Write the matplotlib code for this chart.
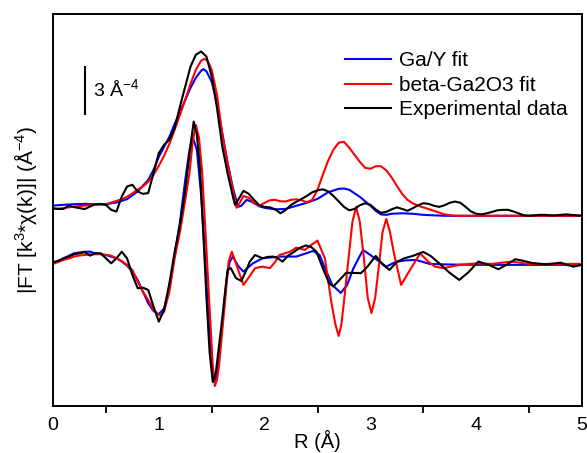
import matplotlib
matplotlib.use("Agg")
import matplotlib.pyplot as plt
import numpy as np

plt.rcParams["font.family"] = ["Liberation Sans", "DejaVu Sans"]
plt.rcParams["mathtext.fontset"] = "custom"
plt.rcParams["mathtext.rm"] = "Liberation Sans"
plt.rcParams["mathtext.it"] = "Liberation Sans:italic"

# ── Données : |FT| (courbes du haut) et partie réelle (courbes du bas), en Å^-4 ──

r_black_mag = [0, 0.05, 0.1, 0.15, 0.2, 0.25, 0.3, 0.35, 0.4, 0.45, 0.5, 0.55, 0.6, 0.65, 0.7,
               0.75, 0.8, 0.85, 0.9, 0.95, 1.0, 1.05, 1.1, 1.15, 1.2, 1.25, 1.3, 1.35, 1.4, 1.45,
               1.5, 1.55, 1.6, 1.65, 1.7, 1.72, 1.75, 1.8, 1.85, 1.9, 1.95, 2.0, 2.05, 2.1, 2.15,
               2.2, 2.25, 2.3, 2.35, 2.4, 2.45, 2.5, 2.55, 2.6, 2.65, 2.7, 2.75, 2.8, 2.85, 2.9,
               2.95, 3.0, 3.05, 3.1, 3.15, 3.2, 3.25, 3.3, 3.35, 3.4, 3.45, 3.5, 3.55, 3.6, 3.65,
               3.7, 3.75, 3.8, 3.85, 3.9, 3.95, 4.0, 4.05, 4.1, 4.15, 4.2, 4.25, 4.3, 4.35, 4.4,
               4.45, 4.5, 4.55, 4.6, 4.65, 4.7, 4.75, 4.8, 4.85, 4.9, 4.95, 5.0]
black_mag = [0.62, 0.56, 0.57, 0.78, 0.68, 0.62, 0.56, 0.72, 0.87, 0.89, 0.83, 0.51, 0.40, 1.36, 2.00,
             2.11, 1.68, 1.53, 1.58, 2.85, 4.13, 4.66, 4.98, 5.72, 7.10, 8.38, 9.65, 10.40, 10.61, 10.29,
             9.02, 7.00, 4.55, 2.85, 1.36, 0.83, 1.15, 1.72, 1.53, 1.15, 0.80, 0.70, 0.67, 0.54, 0.29,
             0.51, 0.83, 1.02, 1.21, 1.40, 1.63, 1.75, 1.82, 1.69, 1.40, 1.05, 0.70, 0.48, 0.57, 0.80,
             0.93, 0.83, 0.54, 0.32, 0.38, 0.54, 0.67, 0.57, 0.45, 0.61, 0.80, 0.93, 0.89, 0.77, 0.70,
             0.80, 0.96, 1.04, 0.96, 0.70, 0.41, 0.26, 0.22, 0.29, 0.38, 0.48, 0.51, 0.51, 0.41, 0.29,
             0.16, 0.13, 0.16, 0.19, 0.19, 0.16, 0.16, 0.19, 0.22, 0.19, 0.16, 0.13]

r_blue_mag = [0, 0.1, 0.2, 0.3, 0.4, 0.5, 0.6, 0.7, 0.8, 0.9, 0.95, 1.0, 1.05, 1.1, 1.15, 1.2,
              1.25, 1.3, 1.35, 1.4, 1.42, 1.45, 1.5, 1.55, 1.6, 1.65, 1.7, 1.75, 1.78, 1.83, 1.88,
              1.95, 2.0, 2.1, 2.2, 2.3, 2.4, 2.5, 2.6, 2.7, 2.75, 2.8, 2.9, 3.0, 3.05, 3.1, 3.15,
              3.2, 3.3, 3.4, 3.5, 3.7, 4.0, 4.5, 5.0]
blue_mag = [0.78, 0.83, 0.87, 0.89, 0.87, 0.87, 0.98, 1.19, 1.68, 2.42, 3.06, 3.89, 4.53, 5.17, 6.00, 6.76,
            7.53, 8.29, 8.93, 9.38, 9.49, 9.35, 8.68, 7.34, 5.42, 3.51, 1.91, 0.70, 0.77, 1.15, 1.02,
            0.73, 0.64, 0.54, 0.57, 0.77, 0.96, 1.21, 1.63, 1.85, 1.87, 1.79, 1.34, 0.77, 0.45, 0.22, 0.19,
            0.26, 0.29, 0.26, 0.19, 0.13, 0.13, 0.13, 0.13]

r_red_mag = [0, 0.1, 0.2, 0.3, 0.4, 0.5, 0.6, 0.65, 0.7, 0.75, 0.8, 0.85, 0.9, 0.95, 1.0, 1.05,
             1.1, 1.15, 1.2, 1.25, 1.3, 1.35, 1.4, 1.43, 1.46, 1.5, 1.55, 1.6, 1.65, 1.7, 1.735,
             1.76, 1.8, 1.85, 1.9, 1.95, 2.0, 2.05, 2.1, 2.15, 2.2, 2.25, 2.3, 2.35, 2.4, 2.45,
             2.5, 2.55, 2.6, 2.65, 2.7, 2.75, 2.8, 2.85, 2.9, 2.95, 3.0, 3.05, 3.1, 3.15, 3.2,
             3.25, 3.3, 3.35, 3.4, 3.45, 3.5, 3.6, 3.7, 3.8, 4.0, 5.0]
red_mag = [0.56, 0.62, 0.72, 0.78, 0.83, 0.86, 1.08, 1.18, 1.34, 1.56, 1.79, 2.00, 2.30, 2.74, 3.32, 3.96,
           4.72, 5.62, 6.57, 7.53, 8.55, 9.44, 10.02, 10.14, 10.02, 9.44, 7.85, 5.30, 3.51, 1.79, 0.64,
           0.89, 1.40, 1.28, 0.96, 0.77, 0.96, 1.12, 1.15, 1.05, 1.05, 1.15, 1.18, 1.12, 0.99, 1.15,
           1.79, 2.74, 3.64, 4.34, 4.79, 4.85, 4.47, 4.02, 3.57, 3.19, 3.13, 3.29, 3.29, 3.03, 2.58,
           2.04, 1.53, 1.15, 0.93, 0.77, 0.67, 0.45, 0.22, 0.13, 0.13, 0.13]

r_black_re = [0, 0.05, 0.1, 0.15, 0.2, 0.25, 0.3, 0.35, 0.4, 0.45, 0.5, 0.55, 0.6, 0.65, 0.7,
              0.75, 0.8, 0.85, 0.9, 0.95, 1.0, 1.05, 1.1, 1.15, 1.2, 1.25, 1.3, 1.33, 1.36, 1.39,
              1.42, 1.45, 1.48, 1.51, 1.54, 1.57, 1.6, 1.62, 1.65, 1.68, 1.73, 1.78, 1.82, 1.86,
              1.91, 1.98, 2.03, 2.08, 2.12, 2.17, 2.22, 2.28, 2.33, 2.39, 2.44, 2.49, 2.55, 2.61,
              2.65, 2.7, 2.77, 2.84, 2.91, 2.97, 3.05, 3.12, 3.18, 3.25, 3.32, 3.4, 3.5, 3.57,
              3.65, 3.75, 3.84, 3.93, 4.02, 4.12, 4.21, 4.3, 4.37, 4.45, 4.53, 4.66, 4.73, 4.8,
              4.86, 4.92, 5.0]
black_re = [0.11, 0.19, 0.36, 0.47, 0.62, 0.68, 0.75, 0.53, 0.68, 0.68, 0.36, 0.04, 0.36, 0.78, 0.36,
            -0.70, -1.55, -1.51, -1.66, -2.72, -3.68, -2.93, -1.23, 0.78, 2.49, 4.72, 7.59, 9.08, 8.23, 6.00,
            2.04, -2.11, -5.61, -7.53, -6.87, -5.17, -3.45, -2.17, -0.38, -0.26, -0.91, -1.08, -0.51, 0.15,
            0.57, 0.36, 0.45, 0.47, 0.38, 0.15, 0.51, 0.78, 1.02, 1.18, 1.08, 0.78, -0.27, -1.23,
            -1.44, -1.08, -0.57, -0.57, -0.59, -0.19, 0.51, -0.06, -0.38, 0.13, 0.36, 0.51, 0.77, 0.51,
            0.04, -0.57, -1.02, -0.51, 0.15, -0.06, -0.34, 0.00, 0.30, 0.19, 0.06, -0.03, 0.03, 0.08,
            -0.06, -0.17, -0.06]

r_blue_re = [0, 0.1, 0.2, 0.3, 0.35, 0.4, 0.5, 0.6, 0.65, 0.7, 0.75, 0.8, 0.85, 0.9, 0.95, 1.0,
             1.05, 1.1, 1.15, 1.2, 1.25, 1.29, 1.32, 1.36, 1.4, 1.44, 1.48, 1.51, 1.53, 1.56, 1.6,
             1.64, 1.67, 1.7, 1.75, 1.8, 1.89, 1.98, 2.14, 2.3, 2.46, 2.52, 2.57, 2.64, 2.72, 2.78,
             2.84, 2.93, 3.0, 3.05, 3.15, 3.24, 3.32, 3.43, 3.56, 3.7, 4.0, 5.0]
blue_re = [0.04, 0.36, 0.68, 0.78, 0.78, 0.68, 0.57, 0.36, 0.15, -0.11, -0.49, -1.02, -1.77, -2.51, -3.00, -3.21,
           -2.83, -1.55, 0.57, 2.68, 5.36, 7.27, 8.10, 7.27, 4.40, 0.13, -4.40, -7.08, -7.59, -6.64, -3.89,
           -1.02, 0.13, 0.47, -0.13, -0.49, 0.04, 0.36, 0.47, 0.47, 0.83, 0.57, -0.27, -1.34, -1.85, -1.34,
           -0.27, 0.89, 0.57, 0.32, -0.17, 0.13, 0.22, 0.26, 0.00, -0.03, -0.06, -0.06]

r_red_re = [0, 0.05, 0.1, 0.15, 0.2, 0.25, 0.3, 0.35, 0.4, 0.45, 0.5, 0.55, 0.6, 0.65, 0.7, 0.75,
            0.8, 0.85, 0.9, 0.95, 1.0, 1.02, 1.05, 1.1, 1.15, 1.2, 1.25, 1.29, 1.32, 1.35, 1.38,
            1.41, 1.44, 1.48, 1.51, 1.53, 1.55, 1.57, 1.62, 1.66, 1.69, 1.745, 1.8, 1.86, 1.91,
            1.98, 2.05, 2.1, 2.14, 2.24, 2.3, 2.38, 2.44, 2.5, 2.57, 2.63, 2.67, 2.7, 2.725, 2.75,
            2.8, 2.83, 2.865, 2.9, 2.94, 2.975, 3.01, 3.045, 3.08, 3.115, 3.15, 3.185, 3.22, 3.29,
            3.38, 3.47, 3.55, 3.61, 3.69, 3.84, 4.0, 4.15, 4.33, 4.5, 5.0]
red_re = [0.00, 0.13, 0.26, 0.35, 0.47, 0.54, 0.57, 0.61, 0.62, 0.62, 0.57, 0.53, 0.36, 0.19, -0.06, -0.38,
          -1.13, -1.77, -2.30, -2.93, -3.25, -3.30, -3.04, -1.77, 0.38, 2.04, 4.08, 5.81, 7.78, 8.87, 8.04,
          5.81, 2.17, -2.81, -6.44, -7.78, -7.40, -6.44, -2.81, 0.15, 0.78, -0.27, -1.34, -0.77, -0.27,
          -0.17, -0.27, 0.13, 0.57, 0.78, 1.04, 0.89, 1.21, 1.49, 0.36, -2.41, -3.89, -4.59, -3.89, -2.41,
          0.78, 2.68, 3.64, 2.68, 0.26, -2.17, -3.13, -2.17, -0.13, 2.04, 2.87, 2.04, 0.77, -1.34,
          -0.32, 0.67, 0.13, -0.17, -0.27, -0.06, 0.04, 0.00, 0.15, 0.00, 0.00]

OFFSET_MAG = 12.0   # décalage vertical des courbes |FT|
OFFSET_RE = 9.06    # décalage vertical des parties réelles

SERIES = [
    ("Ga/Y fit", "#0000ff", r_blue_mag, blue_mag, r_blue_re, blue_re),
    ("beta-Ga2O3 fit", "#ff0000", r_red_mag, red_mag, r_red_re, red_re),
    ("Experimental data", "black", r_black_mag, black_mag, r_black_re, black_re),
]

fig = plt.figure(figsize=(5.87, 4.53), dpi=100)
ax = fig.add_axes([53 / 587, 47 / 453, 529 / 587, 392 / 453])

for label, couleur, rm, mag, rr, re in SERIES:
    ax.plot(rm, np.array(mag) + OFFSET_MAG, color=couleur, lw=1.5, label=label,
            solid_joinstyle="round")
    ax.plot(rr, np.array(re) + OFFSET_RE, color=couleur, lw=1.5, solid_joinstyle="round")

# barre d'échelle
ax.plot([0.30, 0.30], [18.65, 21.65], color="black", lw=1.5)
ax.text(0.38, 20.2, r"3 Å$^{-4}$", fontsize=14, va="center", ha="left")

ax.set_xlim(0, 5)
ax.set_ylim(0, 25)
ax.set_xticks([0, 1, 2, 3, 4, 5])
ax.set_xticks([0.5, 1.5, 2.5, 3.5, 4.5], minor=True)
ax.set_yticks([])
ax.tick_params(axis="x", which="major", direction="out", length=0, labelsize=14, pad=8)
ax.tick_params(axis="x", which="minor", direction="out", length=5, width=1.3)
for s in ax.spines.values():
    s.set_linewidth(1.4)

ax.set_xlabel("R (Å)", fontsize=14.5, labelpad=-3)
ax.set_ylabel(r"|FT [k$^{3}$*χ(k)]| (Å$^{-4}$)", fontsize=15, labelpad=10)

ax.legend(loc="upper left", bbox_to_anchor=(0.552, 0.905), frameon=False, fontsize=15,
          handlelength=2.2, handletextpad=0.4, labelspacing=0.27, borderpad=0, borderaxespad=0)

fig.savefig("out.png", dpi=100)
